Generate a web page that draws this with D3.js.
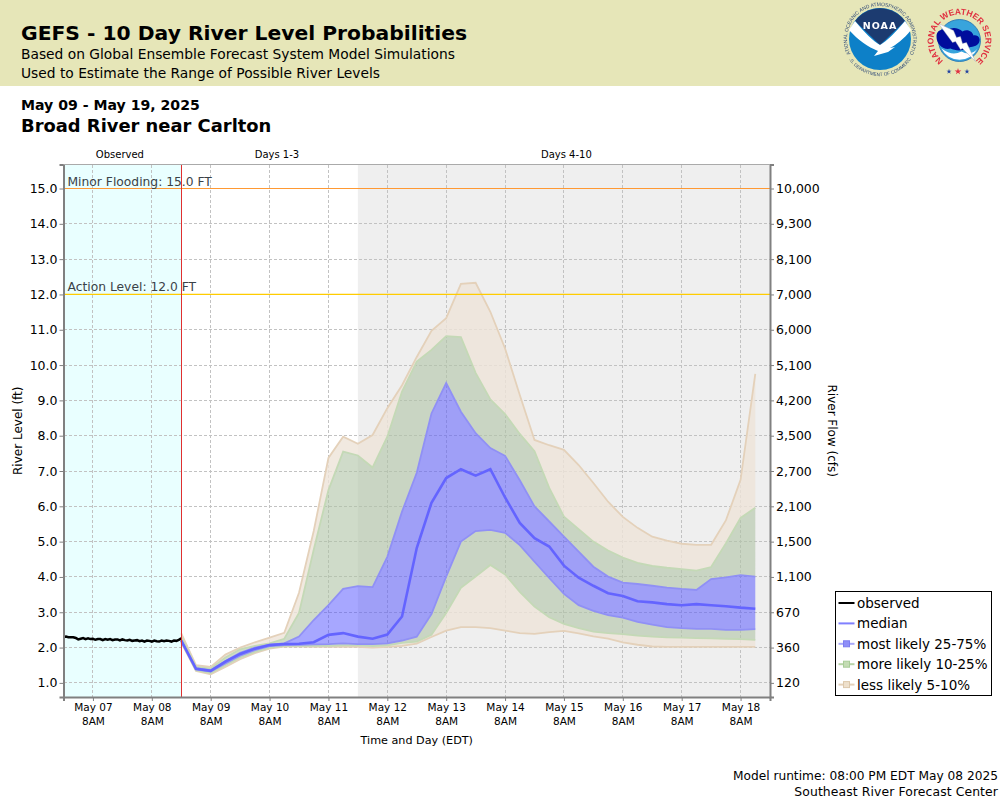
<!DOCTYPE html>
<html>
<head>
<meta charset="utf-8">
<script src="https://cdn.jsdelivr.net/npm/d3@7/dist/d3.min.js"></script>
<style>
  html, body { margin: 0; padding: 0; background: #fff; }
  text { font-family: "DejaVu Sans", sans-serif; }
</style>
</head>
<body>
<svg id="chart" width="1000" height="800"></svg>
<script>
// river level (ft), one value every 6 hours from the model run
var q95 = [2.40,1.50,1.45,1.80,2.00,2.15,2.28,2.42,3.55,5.30,7.37,7.97,7.77,8.02,8.78,9.43,10.23,10.97,11.33,12.30,12.33,11.51,10.47,9.15,7.88,7.73,7.60,7.17,6.66,6.13,5.70,5.39,5.14,5.03,4.94,4.91,4.91,5.60,6.75,9.75];
var q90 = [2.30,1.45,1.40,1.72,1.95,2.05,2.12,2.25,2.98,4.77,6.46,7.55,7.44,7.10,7.97,9.25,10.10,10.43,10.82,10.79,9.78,9.03,8.61,8.05,7.56,6.52,5.71,5.35,5.00,4.75,4.55,4.40,4.31,4.26,4.22,4.18,4.28,4.95,5.67,5.96];
var q75 = [2.20,1.42,1.36,1.62,1.85,2.00,2.08,2.12,2.31,2.78,3.20,3.66,3.74,3.71,4.57,5.85,6.95,8.63,9.49,8.68,8.07,7.65,7.43,6.74,6.00,5.57,5.14,4.72,4.29,4.01,3.84,3.80,3.75,3.70,3.66,3.63,3.94,3.99,4.05,4.01];
var median = [2.20,1.40,1.34,1.60,1.82,1.97,2.07,2.10,2.11,2.15,2.36,2.41,2.31,2.25,2.37,2.88,4.82,6.10,6.80,7.05,6.87,7.05,6.25,5.53,5.10,4.86,4.32,3.98,3.75,3.54,3.46,3.31,3.28,3.23,3.20,3.23,3.20,3.17,3.13,3.10];
var q25 = [2.18,1.38,1.32,1.55,1.77,1.93,2.04,2.07,2.08,2.09,2.10,2.12,2.10,2.10,2.12,2.20,2.31,2.95,4.01,5.00,5.30,5.33,5.25,4.90,4.43,3.97,3.52,3.20,3.04,2.92,2.85,2.73,2.65,2.58,2.55,2.53,2.53,2.50,2.50,2.52];
var q10 = [2.16,1.36,1.28,1.50,1.72,1.88,2.00,2.05,2.05,2.05,2.05,2.06,2.06,2.04,2.06,2.13,2.17,2.36,2.98,3.69,4.01,4.34,4.07,3.58,3.16,2.86,2.67,2.55,2.45,2.41,2.38,2.34,2.31,2.29,2.28,2.27,2.26,2.25,2.24,2.22];
var q05 = [2.14,1.34,1.24,1.45,1.67,1.84,1.97,2.03,2.03,2.02,2.02,2.02,2.02,2.00,2.02,2.05,2.11,2.30,2.48,2.58,2.58,2.55,2.48,2.41,2.39,2.44,2.47,2.40,2.32,2.25,2.15,2.08,2.03,2.02,2.02,2.02,2.02,2.02,2.02,2.02];

// hourly gauge readings before the model run
var observed = [2.30,2.31,2.29,2.29,2.29,2.27,2.23,2.25,2.27,2.24,2.26,2.24,2.25,2.22,2.24,2.24,2.21,2.24,2.22,2.24,2.21,2.23,2.23,2.20,2.23,2.21,2.20,2.22,2.19,2.20,2.21,2.18,2.20,2.17,2.20,2.19,2.17,2.20,2.18,2.17,2.20,2.18,2.20,2.19,2.17,2.20,2.19,2.22,2.26];

var levelTicks = [1,2,3,4,5,6,7,8,9,10,11,12,13,14,15];
var flowLabels = ["120","360","670","1,100","1,500","2,100","2,700","3,500","4,200","5,100","6,000","7,000","8,100","9,300","10,000"];
var tickDays = [7,8,9,10,11,12,13,14,15,16,17,18];

var thresholdNames = ["Minor Flooding: 15.0 FT","Action Level: 12.0 FT"];
var thresholdValues = [15,12];
var thresholdColors = ["#ff9933","#ffcc00"];

var legendNames = ["observed","median","most likely 25-75%","more likely 10-25%","less likely 5-10%"];

var periodNames = ["Observed","Days 1-3","Days 4-10"];
var periodAnchors = [new Date(2025,4,7,19), new Date(2025,4,10,11), new Date(2025,4,15,9)];

var chartStart = new Date(2025,4,6,20);
var runTime = new Date(2025,4,8,20);
var outlookStart = new Date(2025,4,11,20);
var chartEnd = new Date(2025,4,18,20);

var margin = {top: 164.5, right: 230, bottom: 103, left: 63.5};
var width = 1000 - margin.left - margin.right;
var height = 800 - margin.top - margin.bottom;

var x = d3.scaleTime().domain([chartStart, chartEnd]).range([0, width]);
var y = d3.scaleLinear().domain([0.6, 15.68]).range([height, 0]);

var svg = d3.select("#chart");

var filter = svg.append("defs").append("filter").attr("id", "soft");
filter.append("feGaussianBlur").attr("stdDeviation", 0.35);

// header
svg.append("rect").attr("width", 1000).attr("height", 86).attr("fill", "#e6e6b8");
svg.append("text").attr("x", 21).attr("y", 40).attr("font-size", 20.3).attr("font-weight", "bold").text("GEFS - 10 Day River Level Probabilities");
svg.append("text").attr("x", 21).attr("y", 59).attr("font-size", 13.8).text("Based on Global Ensemble Forecast System Model Simulations");
svg.append("text").attr("x", 21).attr("y", 78).attr("font-size", 13.8).text("Used to Estimate the Range of Possible River Levels");
svg.append("text").attr("x", 21).attr("y", 110).attr("font-size", 14.1).attr("font-weight", "bold").text("May 09 - May 19, 2025");
svg.append("text").attr("x", 21).attr("y", 132).attr("font-size", 17.9).attr("font-weight", "bold").text("Broad River near Carlton");

drawNoaaLogo(svg.append("g").attr("transform", "translate(880,39)"));
drawNwsLogo(svg.append("g").attr("transform", "translate(959.5,40.5)"));

var graph = svg.append("g").attr("transform", "translate(" + margin.left + "," + margin.top + ")");

// backgrounds
graph.append("rect").attr("width", x(runTime)).attr("height", height).attr("fill", "#e9ffff");
graph.append("rect").attr("x", x(outlookStart)).attr("width", width - x(outlookStart)).attr("height", height).attr("fill", "#efefef");

// grid
var tickDates = tickDays.map(function(d) { return new Date(2025,4,d,8); });
graph.selectAll(".vgrid").data(tickDates).enter().append("line")
  .attr("x1", function(d) { return x(d); }).attr("x2", function(d) { return x(d); })
  .attr("y1", 0).attr("y2", height)
  .attr("stroke", "#c2c2c2").attr("stroke-dasharray", "3,2").attr("shape-rendering", "crispEdges");
graph.selectAll(".hgrid").data(levelTicks).enter().append("line")
  .attr("x1", 0).attr("x2", width)
  .attr("y1", function(d) { return y(d); }).attr("y2", function(d) { return y(d); })
  .attr("stroke", "#c2c2c2").attr("stroke-dasharray", "3,2").attr("shape-rendering", "crispEdges");

// probability bands
function timeAt(i) { return d3.timeHour.offset(runTime, i * 6); }

function band(lower, upper) {
  return d3.area()
    .x(function(d, i) { return x(timeAt(i)); })
    .y0(function(d, i) { return y(lower[i]); })
    .y1(function(d, i) { return y(upper[i]); })(median);
}
var bandLine = d3.line()
  .x(function(d, i) { return x(timeAt(i)); })
  .y(function(d) { return y(d); });

var tanFill = "rgba(238,228,216,0.8)";
var greenFill = "rgba(175,195,165,0.6)";
var blueFill = "rgba(80,80,255,0.5)";

graph.append("path").attr("d", band(q90, q95)).attr("fill", tanFill);
graph.append("path").attr("d", band(q05, q10)).attr("fill", tanFill);
graph.append("path").attr("d", band(q75, q90)).attr("fill", greenFill);
graph.append("path").attr("d", band(q10, q25)).attr("fill", greenFill);
graph.append("path").attr("d", band(q25, q75)).attr("fill", blueFill);

[[q95,"#e4d1ba"],[q05,"#e4d1ba"],[q90,"#c4d9b6"],[q10,"#c4d9b6"],[q75,"#9090f5"],[q25,"#9090f5"]].forEach(function(s) {
  graph.append("path").attr("d", bandLine(s[0])).attr("fill", "none").attr("stroke", s[1]).attr("stroke-width", 1.8);
});

graph.append("path").attr("d", bandLine(median)).attr("fill", "none").attr("stroke", "#6464ff").attr("stroke-width", 2.6);

// observed
graph.append("path")
  .attr("d", d3.line()
    .x(function(d, i) { return x(d3.timeHour.offset(chartStart, i)); })
    .y(function(d) { return y(d); })(observed))
  .attr("fill", "none").attr("stroke", "#000").attr("stroke-width", 2.5);

// flood thresholds
thresholdValues.forEach(function(v, i) {
  graph.append("line").attr("x1", 0).attr("x2", width).attr("y1", y(v)).attr("y2", y(v))
    .attr("stroke", thresholdColors[i]).attr("stroke-width", 1.2);
  graph.append("text").attr("x", 4).attr("y", y(v) - 3).attr("font-size", 12.3).attr("fill", "#3a4248").text(thresholdNames[i]);
});

// run time marker
graph.append("line").attr("x1", x(runTime)).attr("x2", x(runTime)).attr("y1", 0).attr("y2", height)
  .attr("stroke", "#e03030").attr("stroke-width", 1).attr("shape-rendering", "crispEdges");

// axes
var axisLeft = d3.axisLeft(y).tickValues(levelTicks).tickSize(4).tickPadding(2).tickFormat(d3.format(".1f"));
var axisRight = d3.axisRight(y).tickValues(levelTicks).tickSize(4).tickPadding(2)
  .tickFormat(function(d) { return flowLabels[levelTicks.indexOf(d)]; });
var axisBottom = d3.axisBottom(x).tickValues(tickDates).tickSize(4).tickPadding(3).tickFormat(d3.timeFormat("%b %d"));

var gLeft = graph.append("g").call(axisLeft);
var gRight = graph.append("g").attr("transform", "translate(" + width + ",0)").call(axisRight);
var gBottom = graph.append("g").attr("transform", "translate(0," + height + ")").call(axisBottom);

gLeft.selectAll("text").attr("font-size", 12.5).attr("fill", "#000");
gRight.selectAll("text").attr("font-size", 12.5).attr("fill", "#000");
gBottom.selectAll("text").attr("font-size", 10.5).attr("fill", "#000").style("font-family", "'DejaVu Sans'");
gBottom.selectAll(".tick").append("text").attr("y", 25).attr("dy", "0.32em").attr("text-anchor", "middle")
  .attr("font-size", 10.5).attr("fill", "#000").text("8AM");

[gLeft, gRight, gBottom].forEach(function(g) {
  g.selectAll(".domain").attr("stroke", "#808080").attr("stroke-width", 2);
  g.selectAll(".tick line").attr("stroke", "#808080");
});
graph.append("line").attr("x1", 0).attr("x2", width).attr("y1", 0).attr("y2", 0).attr("stroke", "#aaa");

// axis titles
graph.append("text").attr("x", x(new Date(2025,4,12,20))).attr("y", height + 47).attr("text-anchor", "middle").attr("font-size", 11.2).text("Time and Day (EDT)");
svg.append("text").attr("transform", "translate(22," + (margin.top + height / 2) + ") rotate(-90)").attr("text-anchor", "middle").attr("font-size", 12).text("River Level (ft)");
svg.append("text").attr("transform", "translate(828," + (margin.top + height / 2) + ") rotate(90)").attr("text-anchor", "middle").attr("font-size", 12).text("River Flow (cfs)");

// period labels
periodNames.forEach(function(name, i) {
  graph.append("text").attr("x", x(periodAnchors[i])).attr("y", -7).attr("text-anchor", "middle").attr("font-size", 10).text(name);
});

// legend
var legend = svg.append("g").attr("transform", "translate(835.5,591.5)");
legend.append("rect").attr("width", 156).attr("height", 104).attr("fill", "#fff").attr("stroke", "#000");
var legendStroke = ["#000","#8080ff","#a8a8fa","#b8d4a8","#e4d1ba"];
var legendSquare = [null,null,"#8f8ff8","#c4dcb4","#eee0cc"];
var legendEdge = [null,null,"#7c7cf0","#a8cc98","#dcc8ac"];
legendNames.forEach(function(name, i) {
  var row = legend.append("g").attr("transform", "translate(0," + (11.5 + i * 20.4) + ")");
  row.append("line").attr("x1", 3).attr("x2", 19).attr("stroke", legendStroke[i]).attr("stroke-width", 2);
  if (legendSquare[i]) {
    row.append("rect").attr("x", 8).attr("y", -3).attr("width", 6).attr("height", 6)
      .attr("fill", legendSquare[i]).attr("stroke", legendEdge[i]);
  }
  row.append("text").attr("x", 21.5).attr("y", 5).attr("font-size", 13.5).text(name);
});

// footer
svg.append("text").attr("x", 998).attr("y", 780).attr("text-anchor", "end").attr("font-size", 12.2).text("Model runtime: 08:00 PM EDT May 08 2025");
svg.append("text").attr("x", 998).attr("y", 796).attr("text-anchor", "end").attr("font-size", 12.4).attr("letter-spacing", 0.1).text("Southeast River Forecast Center");

function arcText(g, id, d, label, size, color, weight) {
  g.append("path").attr("id", id).attr("d", d).attr("fill", "none");
  g.append("text").attr("font-size", size).attr("fill", color).attr("font-weight", weight).style("font-family", "'Liberation Sans'")
    .append("textPath").attr("href", "#" + id).attr("startOffset", "50%").attr("text-anchor", "middle").text(label);
}

function drawNoaaLogo(g) {
  g.attr("filter", "url(#soft)");
  g.append("circle").attr("r", 31).attr("fill", "#0a80c8");
  g.append("path").attr("d", "M-25,-18 A31,31 0 0 1 25,-18 L0,6 Z").attr("fill", "#1f3a70");
  g.append("path").attr("d", "M-31,-9 L-25,-18 C-15,-6 -7,2 0,6 C7,2 15,-6 25,-18 L31,-9 C24,0 16,6 10,9 L15,8 L8,13 L-6,17 L-2,12 C-12,8 -22,1 -31,-9 Z").attr("fill", "#fff");
  g.append("text").attr("y", -10.5).attr("text-anchor", "middle").attr("font-size", 9.5).attr("font-weight", "bold").attr("fill", "#fff").attr("letter-spacing", 1).text("NOAA");
  arcText(g, "noaaTop", "M-29.1,15.5 A33,33 0 1 1 29.1,15.5", "NATIONAL OCEANIC AND ATMOSPHERIC ADMINISTRATION", 5, "#304a78", "normal");
  arcText(g, "noaaBottom", "M-31.4,19.6 A37,37 0 0 0 31.4,19.6", "U.S. DEPARTMENT OF COMMERCE", 4.7, "#304a78", "normal");
}

function drawNwsLogo(g) {
  g.attr("filter", "url(#soft)");
  g.append("circle").attr("r", 21).attr("fill", "#38a4dc").attr("stroke", "#1f6fb0").attr("stroke-width", 0.8);
  g.append("path").attr("d", "M-18,8 C-10,14 -4,14 2,11 C9,15 15,12 18,8 A20,20 0 0 1 -18,8 Z").attr("fill", "#fff");
  g.append("path").attr("d", "M-23,-4 C-23,-11 -16,-12 -12,-10 C-8,-14 -1,-13 3,-9 C8,-12 13,-9 14,-5 C19,-6 22,-1 19,3 C16,7 10,6 7,8 C2,11 -5,10 -9,8 C-15,10 -23,5 -23,-4 Z").attr("fill", "#000f9c");
  g.append("path").attr("d", "M-21,-17 L-6,-10 L-3,-3 L1,-4 L3,3 L7,2 L16,21 L3,8 L1,9 L-4,1 L-7,2 Z").attr("fill", "#fff").attr("stroke", "#9aa0b0").attr("stroke-width", 0.4);
  arcText(g, "nwsRing", "M-14.9,21.3 A26,26 0 1 1 14.9,21.3", "NATIONAL WEATHER SERVICE", 8.5, "#e03040", "bold");
  var starX = [-10.5,-1.5,7.5];
  var starColor = ["#2040a0","#e03040","#2040a0"];
  starX.forEach(function(sx, i) {
    g.append("path").attr("d", d3.symbol().type(d3.symbolStar).size(i == 1 ? 14 : 8)).attr("transform", "translate(" + sx + ",31)").attr("fill", starColor[i]);
  });
}
</script>
</body>
</html>
